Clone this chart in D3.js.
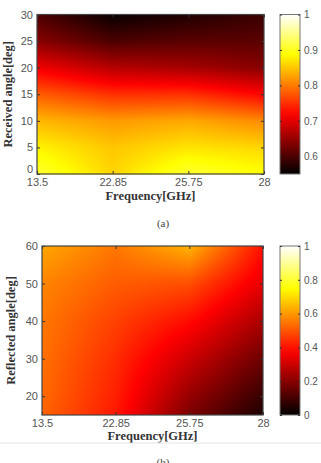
<!DOCTYPE html>
<html>
<head>
<meta charset="utf-8">
<script src="https://cdn.jsdelivr.net/npm/d3@7"></script>
<style>
  body { margin: 0; background: #fff; }
  svg { display: block; }
</style>
</head>
<body>
<div id="chart"></div>
<script>
// frequency columns (categorical, evenly spaced like the original figure)
const freqs = ["13.5", "22.85", "25.75", "28"];

// (a) received angle rows and values [angle][freq]
const anglesA = [0, 5, 10, 15, 20, 25, 30];
const valuesA = [
    [0.91, 0.86, 0.91, 0.89],
    [0.88, 0.85, 0.87, 0.86],
    [0.84, 0.82, 0.83, 0.81],
    [0.78, 0.75, 0.75, 0.72],
    [0.71, 0.67, 0.66, 0.64],
    [0.64, 0.60, 0.61, 0.61],
    [0.60, 0.555, 0.57, 0.59]
];

// (b) reflected angle rows and values [angle][freq]
const anglesB = [15, 20, 30, 40, 50, 60];
const valuesB = [
    [0.52, 0.41, 0.18, 0.04],
    [0.53, 0.42, 0.22, 0.08],
    [0.54, 0.44, 0.30, 0.16],
    [0.55, 0.47, 0.39, 0.25],
    [0.57, 0.51, 0.49, 0.34],
    [0.62, 0.55, 0.64, 0.40]
];

const ticksA = [0, 5, 10, 15, 20, 25, 30];
const ticksB = [20, 30, 40, 50, 60];
const cbarTicksA = [0.6, 0.7, 0.8, 0.9, 1];
const cbarTicksB = [0, 0.2, 0.4, 0.6, 0.8, 1];

// matlab "hot" colormap
function hot(t) {
    t = Math.max(0, Math.min(1, t));
    const r = Math.min(1, t / 0.375);
    const g = Math.max(0, Math.min(1, (t - 0.375) / 0.375));
    const b = Math.max(0, Math.min(1, (t - 0.75) / 0.25));
    return [r * 255, g * 255, b * 255];
}

const W = 321, H = 463;
const svg = d3.select("#chart").append("svg")
    .attr("width", W).attr("height", H);

const tickFont = "'Liberation Sans', Arial, sans-serif";
const labelFont = "'Liberation Serif', 'Times New Roman', serif";

// bilinear lookup on the grid, like shading interp
function lookup(rows, vals, xi, yv) {
    let j = 0;
    while (j < rows.length - 2 && yv > rows[j + 1]) j++;
    const fy = Math.max(0, Math.min(1, (yv - rows[j]) / (rows[j + 1] - rows[j])));
    const i = Math.min(freqs.length - 2, Math.floor(xi));
    const fx = Math.max(0, Math.min(1, xi - i));
    const a = vals[j][i] * (1 - fx) + vals[j][i + 1] * fx;
    const b = vals[j + 1][i] * (1 - fx) + vals[j + 1][i + 1] * fx;
    return a * (1 - fy) + b * fy;
}

function panel(opt) {
    const x = d3.scaleLinear().domain([0, freqs.length - 1]).range([opt.left, opt.right]);
    const y = d3.scaleLinear().domain(opt.yDomain).range([opt.bottom, opt.top]);
    const c = d3.scaleLinear().domain(opt.cDomain).range([0, 1]);

    // heatmap raster
    const w = Math.round(opt.right - opt.left), h = Math.round(opt.bottom - opt.top);
    const canvas = document.createElement("canvas");
    canvas.width = w; canvas.height = h;
    const ctx = canvas.getContext("2d");
    const img = ctx.createImageData(w, h);
    for (let py = 0; py < h; py++) {
        const yv = y.invert(opt.top + py + 0.5);
        for (let px = 0; px < w; px++) {
            const xi = x.invert(opt.left + px + 0.5);
            const col = hot(c(lookup(opt.rows, opt.values, xi, yv)));
            const k = (py * w + px) * 4;
            img.data[k] = col[0]; img.data[k + 1] = col[1]; img.data[k + 2] = col[2]; img.data[k + 3] = 255;
        }
    }
    ctx.putImageData(img, 0, 0);
    svg.append("image")
        .attr("x", opt.left).attr("y", opt.top)
        .attr("width", w).attr("height", h)
        .attr("preserveAspectRatio", "none")
        .attr("href", canvas.toDataURL());

    // axes
    const xAxis = svg.append("g")
        .attr("transform", `translate(0,${opt.bottom})`)
        .call(d3.axisBottom(x).tickValues(d3.range(freqs.length)).tickFormat(i => freqs[i])
            .tickSizeInner(-3).tickSizeOuter(0).tickPadding(4));
    const yAxis = svg.append("g")
        .attr("transform", `translate(${opt.left},0)`)
        .call(d3.axisLeft(y).tickValues(opt.yTicks).tickSizeInner(-3).tickSizeOuter(0).tickPadding(4));
    svg.append("g")
        .attr("transform", `translate(0,${opt.top})`)
        .call(d3.axisTop(x).tickValues(d3.range(freqs.length)).tickFormat("").tickSizeInner(-3).tickSizeOuter(0));
    svg.append("g")
        .attr("transform", `translate(${opt.right},0)`)
        .call(d3.axisRight(y).tickValues(opt.yTicks).tickFormat("").tickSizeInner(-3).tickSizeOuter(0));

    svg.selectAll(".domain").remove();
    svg.selectAll(".tick line").attr("stroke", "#333");
    [xAxis, yAxis].forEach(a => a.selectAll("text")
        .attr("font-family", tickFont).attr("font-size", 11).attr("fill", "#555"));
    // lowest y label sits a little above the corner so it clears the x labels
    yAxis.selectAll("text").filter(d => d === opt.yDomain[0]).attr("dy", "-0.15em");

    svg.append("rect")
        .attr("x", opt.left).attr("y", opt.top)
        .attr("width", opt.right - opt.left).attr("height", opt.bottom - opt.top)
        .attr("fill", "none").attr("stroke", "#444").attr("stroke-width", 1.2);

    // colorbar
    const cb = { left: 280, right: 300 };
    const cy = d3.scaleLinear().domain(opt.cDomain).range([opt.bottom, opt.top]);
    const grad = svg.append("defs").append("linearGradient")
        .attr("id", opt.id + "grad").attr("x1", 0).attr("y1", 1).attr("x2", 0).attr("y2", 0);
    d3.range(0, 1.0001, 0.05).forEach(t => {
        const col = hot(t);
        grad.append("stop").attr("offset", t).attr("stop-color", d3.rgb(col[0], col[1], col[2]));
    });
    svg.append("rect")
        .attr("x", cb.left).attr("y", opt.top)
        .attr("width", cb.right - cb.left).attr("height", opt.bottom - opt.top)
        .attr("fill", `url(#${opt.id}grad)`).attr("stroke", "#777").attr("stroke-width", 1);
    const cAxis = svg.append("g")
        .attr("transform", `translate(${cb.right},0)`)
        .call(d3.axisRight(cy).tickValues(opt.cTicks).tickFormat(d => d === 1 ? "1" : d === 0 ? "0" : d3.format(".1f")(d))
            .tickSizeInner(-2).tickSizeOuter(0).tickPadding(4));
    cAxis.select(".domain").remove();
    cAxis.selectAll(".tick line").attr("stroke", "#333");
    cAxis.selectAll("text").attr("font-family", tickFont).attr("font-size", 10).attr("fill", "#555");
    svg.append("g")
        .attr("transform", `translate(${cb.left},0)`)
        .call(d3.axisLeft(cy).tickValues(opt.cTicks).tickFormat("").tickSizeInner(-2).tickSizeOuter(0))
        .call(g => g.select(".domain").remove())
        .selectAll(".tick line").attr("stroke", "#333");

    // labels
    svg.append("text")
        .attr("x", (opt.left + opt.right) / 2).attr("y", opt.bottom + opt.xLabelDy)
        .attr("text-anchor", "middle")
        .attr("font-family", labelFont).attr("font-weight", "bold").attr("font-size", 12.5)
        .attr("fill", "#333")
        .text("Frequency[GHz]");
    svg.append("text")
        .attr("transform", `translate(${opt.yLabelX},${(opt.top + opt.bottom) / 2}) rotate(-90)`)
        .attr("text-anchor", "middle")
        .attr("font-family", labelFont).attr("font-weight", "bold").attr("font-size", 12.5)
        .attr("fill", "#333")
        .text(opt.yLabel);
}

panel({
    id: "a", left: 37, right: 264, top: 14.5, bottom: 174,
    yDomain: [0, 30], yTicks: ticksA, rows: anglesA, values: valuesA,
    cDomain: [0.55, 1], cTicks: cbarTicksA,
    yLabel: "Received angle[deg]", yLabelX: 12, xLabelDy: 26
});

panel({
    id: "b", left: 42, right: 263, top: 246, bottom: 415,
    yDomain: [15, 60], yTicks: ticksB, rows: anglesB, values: valuesB,
    cDomain: [0, 1], cTicks: cbarTicksB,
    yLabel: "Reflected angle[deg]", yLabelX: 15, xLabelDy: 25
});

// captions and separator
svg.append("text")
    .attr("x", 163).attr("y", 227).attr("text-anchor", "middle")
    .attr("font-family", labelFont).attr("font-size", 11).attr("fill", "#444")
    .text("(a)");
svg.append("line")
    .attr("x1", 0).attr("x2", 321).attr("y1", 443).attr("y2", 443)
    .attr("stroke", "#e6e6e6").attr("stroke-width", 1);
svg.append("text")
    .attr("x", 163).attr("y", 466).attr("text-anchor", "middle")
    .attr("font-family", labelFont).attr("font-size", 11).attr("fill", "#444")
    .text("(b)");
</script>
</body>
</html>
